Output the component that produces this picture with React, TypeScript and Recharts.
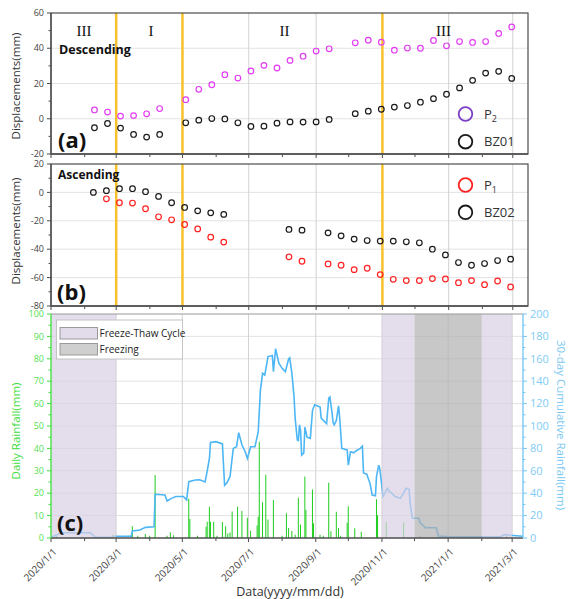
import React from 'react';
import {
  ScatterChart,
  ComposedChart,
  Scatter,
  Bar,
  Line,
  XAxis,
  YAxis,
  ReferenceLine,
  ReferenceArea,
} from 'recharts';

// x values are days counted from 2020/1/1
const MONTH_DAYS = [0, 31, 60, 91, 121, 152, 182, 213, 244, 274, 305, 335, 366, 397, 425];
const MONTH_LABELS = ['2020/1/1', '', '2020/3/1', '', '2020/5/1', '', '2020/7/1', '', '2020/9/1', '', '2020/11/1', '', '2021/1/1', '', '2021/3/1'];
const GRID_DAYS = [60, 121, 182, 244, 305, 366, 425];
const STAGE_DAYS = [60, 121, 305];

// descending track (P2, BZ01)
const DESC_DAYS = [40, 52, 64, 76, 88, 100, 124, 136, 148, 160, 172, 184, 196, 208, 220, 232, 244, 256, 280, 292, 304, 316, 328, 340, 352, 364, 376, 388, 400, 412, 424];
const P2 = [5.0, 3.8, 1.5, 1.8, 2.8, 5.8, 10.8, 16.7, 19.3, 25.0, 23.1, 27.1, 30.3, 28.8, 33.1, 35.5, 38.4, 39.7, 43.1, 44.6, 43.4, 38.9, 40.1, 40.0, 44.4, 41.4, 43.8, 43.3, 43.8, 48.4, 52.1];
const BZ01 = [-5.1, -2.7, -5.3, -8.9, -10.4, -8.9, -2.3, -0.8, 0.1, -0.1, -2.3, -4.4, -4.2, -2.5, -1.8, -1.9, -1.8, -0.4, 2.9, 4.3, 5.4, 6.6, 7.5, 9.4, 11.4, 13.9, 17.5, 21.8, 25.9, 26.9, 22.9];

// ascending track (P1, BZ02)
const ASC_DAYS = [39, 51, 63, 75, 87, 99, 111, 123, 135, 147, 159, 219, 231, 255, 267, 279, 291, 303, 315, 327, 339, 351, 363, 375, 387, 399, 411, 423];
const P1 = [null, -4.5, -7.3, -7.5, -11.5, -17.2, -19.3, -22.6, -25.7, -31.5, -35, -45.4, -48.5, -50.4, -51.3, -54.4, -53.4, -57.9, -61.2, -62.1, -62.1, -60.7, -61, -63.6, -62.1, -65, -62.4, -66.6];
const BZ02 = [0, 1.2, 2.6, 2.6, 0.5, -2.8, -7.3, -10.6, -13, -14.4, -15.5, -26.1, -26.6, -28.5, -30.6, -32.9, -33.9, -34.3, -34.3, -34.8, -35.5, -40, -44, -49.4, -51.3, -50.1, -48, -47];

// daily rainfall (mm), rain days only
const RAIN_DAYS = [5, 57, 75, 80, 87, 91, 96, 107, 110, 113, 127, 128, 135, 143, 144, 146, 147, 150, 153, 158, 161, 163, 165, 167, 172, 176, 181, 184, 190, 191, 192, 195, 198, 200, 205, 213, 217, 219, 222, 225, 228, 230, 234, 235, 241, 242, 248, 251, 256, 258, 263, 265, 267, 273, 274, 280, 286, 300, 301, 309, 325, 340, 356, 420];
const RAIN_MM = [1, 1.5, 5.3, 1, 1.8, 1, 28.1, 1, 2.6, 1.2, 17.5, 8.5, 1, 5, 7.2, 14, 7.3, 7.2, 1, 7.1, 5.2, 2, 2.5, 11.8, 14, 12, 9, 3.2, 5.6, 9.5, 43, 16, 28.2, 8.3, 17, 1, 11, 4.5, 3.1, 1.5, 18, 6, 27.4, 12.5, 21.7, 6.6, 1.5, 1, 24.7, 3, 11.7, 4.5, 1, 6.8, 14.2, 4.3, 2.8, 17.3, 10.2, 7.1, 7, 0.8, 0.5, 1];

// 30-day cumulative rainfall (mm)
const CUM_DAYS = [0, 5, 10, 36, 41, 57, 58, 74, 75, 82, 87, 95, 96, 105, 107, 111, 115, 122, 125, 127, 133, 137, 142, 144, 146, 147, 152, 158, 159, 160, 162, 165, 168, 171, 173, 176, 179, 181, 184, 188, 191, 193, 195, 197, 200, 204, 205, 207, 210, 213, 216, 219, 220, 222, 224, 225, 227, 228, 229, 230, 231, 233, 234, 236, 239, 241, 243, 248, 249, 251, 254, 256, 257, 259, 260, 261, 263, 265, 266, 268, 273, 274, 276, 279, 281, 285, 287, 288, 291, 294, 296, 299, 300, 302, 303, 305, 306, 310, 312, 314, 317, 322, 325, 327, 330, 331, 333, 339, 340, 345, 355, 357, 365, 414, 418, 423, 435];
const CUM_MM = [0.5, 2.7, 4.7, 4.7, 0.6, 0.6, 1.5, 1.5, 6.2, 7.1, 9.5, 10, 39, 38.4, 33, 35.4, 37, 37, 34, 50.3, 51.8, 52, 50, 60, 71, 85.4, 86, 84, 65, 47, 49, 55, 80, 81.5, 94, 83, 77, 71, 81.5, 81.5, 95, 132, 147, 145.5, 162, 163, 148.5, 169, 156, 151.5, 148.5, 160, 161, 147, 126, 107, 87.5, 87, 101, 96, 74, 76, 99, 90, 89, 114, 119, 117, 107, 105, 102, 125, 126, 112, 103, 101, 105, 118, 108, 80, 78.6, 65, 77, 76, 77.7, 80, 82, 58, 57, 48.8, 38.4, 37.8, 54.8, 65, 62, 45.8, 37, 44.4, 41.4, 40, 37, 35.4, 40, 44.4, 43.5, 31, 17.6, 17.6, 13.7, 9.2, 9.2, 1.8, 1.2, 1, 3, 2.5, 1.5];

// seasonal periods: [start, end]
const FREEZE_THAW = [[0, 60], [305, 335], [397, 425]];
const FREEZING = [[335, 397]];

const descP2 = DESC_DAYS.map((day, i) => ({ day, v: P2[i] }));
const descBZ01 = DESC_DAYS.map((day, i) => ({ day, v: BZ01[i] }));
const ascP1 = ASC_DAYS.map((day, i) => ({ day, v: P1[i] })).filter((d) => d.v !== null);
const ascBZ02 = ASC_DAYS.map((day, i) => ({ day, v: BZ02[i] }));
const rainData = RAIN_DAYS.map((day, i) => ({ day, rain: RAIN_MM[i] }));
const cumData = CUM_DAYS.map((day, i) => ({ day, cum: CUM_MM[i] }));

const FONT = '"Open Sans", "DejaVu Sans", sans-serif';
const AXIS = '#4d4d4d';
const GRID = '#e3e3e3';
const VGRID = '#d2d2d2';
const YELLOW = '#f8c12c';
const MAGENTA = '#e23cf2';
const RED = '#ff2020';
const BLACK = '#1a1a1a';
const GREEN = '#19cc19';
const GREEN_AXIS = '#3be03b';
const BLUE = '#4db6f4';
const BLUE_AXIS = '#6fc4f5';

const ring = (color: string) => (props: any) => (
  <circle cx={props.cx} cy={props.cy} r={2.8} fill="none" stroke={color} strokeWidth={1.2} />
);

const bottomTick = (withLabels: boolean) => (props: any) => {
  const { x, y, payload } = props;
  const label = MONTH_LABELS[MONTH_DAYS.indexOf(payload.value)] || '';
  const major = label !== '';
  const px = x + 4;
  const py = y + 12;
  return (
    <g>
      <line x1={x} x2={x} y1={y} y2={y + (major ? 4 : 3)} stroke={AXIS} strokeWidth={1} />
      {withLabels && major && (
        <text
          x={px}
          y={py}
          dy="0.35em"
          textAnchor="end"
          transform={`rotate(-45 ${px} ${py})`}
          fontSize={10}
          fill="#444"
          fontFamily={FONT}
        >
          {label}
        </text>
      )}
    </g>
  );
};

const sideTick = (side: 'left' | 'right', step: number, textColor: string, lineColor: string, size: number) => (props: any) => {
  const { x, y, payload } = props;
  const v = payload.value;
  const major = v % step === 0;
  const dir = side === 'left' ? -1 : 1;
  return (
    <g>
      <line x1={x} x2={x + dir * (major ? 4 : 2.5)} y1={y} y2={y} stroke={lineColor} strokeWidth={1} />
      {major && (
        <text
          x={x + dir * 7}
          y={y}
          dy="0.35em"
          textAnchor={side === 'left' ? 'end' : 'start'}
          fontSize={size}
          fill={textColor}
          fontFamily={FONT}
        >
          {v}
        </text>
      )}
    </g>
  );
};

const range = (a: number, b: number, s: number) => {
  const out: number[] = [];
  for (let v = a; v <= b; v += s) out.push(v);
  return out;
};

const X_END = 439;
const X_END_C = 435;

function DisplacementPanel({ top, height, marginTop, yMin, yMax, gridY, series }: any) {
  return (
    <div style={{ position: 'absolute', left: 0, top }}>
      <ScatterChart width={571} height={height} margin={{ top: marginTop, right: 43, bottom: 0, left: 0 }}>
        <XAxis
          type="number"
          dataKey="day"
          domain={[0, X_END]}
          allowDataOverflow
          ticks={MONTH_DAYS}
          interval={0}
          tick={bottomTick(false)}
          tickLine={false}
          tickSize={0}
          tickMargin={0}
          height={6}
          axisLine={{ stroke: AXIS, strokeWidth: 1.3 }}
        />
        <YAxis
          type="number"
          dataKey="v"
          domain={[yMin, yMax]}
          allowDataOverflow
          ticks={range(yMin, yMax, 10)}
          interval={0}
          tick={sideTick('left', 20, '#444', AXIS, 9)}
          tickLine={false}
          tickSize={0}
          tickMargin={0}
          width={51}
          axisLine={{ stroke: AXIS, strokeWidth: 1.3 }}
        />
        {gridY.map((v: number) => (
          <ReferenceLine key={`h${v}`} y={v} stroke={GRID} strokeWidth={1} zIndex={-100} />
        ))}
        {GRID_DAYS.map((d) => (
          <ReferenceLine key={`v${d}`} x={d} stroke={VGRID} strokeWidth={1} zIndex={-100} />
        ))}
        {STAGE_DAYS.map((d) => (
          <ReferenceLine key={`s${d}`} x={d} stroke={YELLOW} strokeWidth={2.5} />
        ))}
        {series.map((s: any) => (
          <Scatter key={s.name} name={s.name} data={s.data} dataKey="v" shape={ring(s.color)} isAnimationActive={false} />
        ))}
      </ScatterChart>
    </div>
  );
}

function RainPanel() {
  return (
    <div style={{ position: 'absolute', left: 0, top: 300 }}>
      <ComposedChart width={571} height={299} data={rainData} margin={{ top: 14, right: 0, bottom: 0, left: 0 }}>
        <XAxis
          type="number"
          dataKey="day"
          domain={[0, X_END_C]}
          allowDataOverflow
          ticks={MONTH_DAYS}
          interval={0}
          tick={bottomTick(true)}
          tickLine={false}
          tickSize={0}
          tickMargin={0}
          height={61}
          axisLine={{ stroke: AXIS, strokeWidth: 1.3 }}
        />
        <YAxis
          yAxisId="left"
          type="number"
          domain={[0, 100]}
          allowDataOverflow
          ticks={range(0, 100, 5)}
          interval={0}
          tick={sideTick('left', 10, '#55e055', GREEN_AXIS, 9)}
          tickLine={false}
          tickSize={0}
          tickMargin={0}
          width={51}
          axisLine={{ stroke: GREEN_AXIS, strokeWidth: 1.3 }}
        />
        <YAxis
          yAxisId="right"
          orientation="right"
          type="number"
          domain={[0, 200]}
          allowDataOverflow
          ticks={range(0, 200, 10)}
          interval={0}
          tick={sideTick('right', 20, '#7fcbf5', BLUE_AXIS, 11)}
          tickLine={false}
          tickSize={0}
          tickMargin={0}
          width={48}
          axisLine={{ stroke: BLUE_AXIS, strokeWidth: 1.3 }}
        />
        {range(10, 90, 10).map((v) => (
          <ReferenceLine key={`h${v}`} yAxisId="left" y={v} stroke={GRID} strokeWidth={1} zIndex={-100} />
        ))}
        {GRID_DAYS.map((d) => (
          <ReferenceLine key={`v${d}`} yAxisId="left" x={d} stroke={VGRID} strokeWidth={1} zIndex={-100} />
        ))}
        <Bar yAxisId="left" dataKey="rain" fill={GREEN} barSize={2} isAnimationActive={false} />
        <Line
          yAxisId="right"
          data={cumData}
          dataKey="cum"
          type="linear"
          stroke={BLUE}
          strokeWidth={1.6}
          dot={false}
          isAnimationActive={false}
        />
        {FREEZE_THAW.map(([a, b]) => (
          <ReferenceArea key={`ft${a}`} yAxisId="left" x1={a} x2={b} y1={0} y2={100} fill="#d8cfe3" fillOpacity={0.7} stroke="none" zIndex={450} />
        ))}
        {FREEZING.map(([a, b]) => (
          <ReferenceArea key={`fz${a}`} yAxisId="left" x1={a} x2={b} y1={0} y2={100} fill="#b0b0b0" fillOpacity={0.7} stroke="none" zIndex={450} />
        ))}
      </ComposedChart>
    </div>
  );
}

function Overlay() {
  const roman = { fontFamily: '"Liberation Serif", "DejaVu Serif", serif', fontSize: 15, fill: '#111' };
  const bold = { fontFamily: FONT, fontWeight: 700, fill: '#111' };
  const legendText = { fontFamily: FONT, fontSize: 13, fill: '#333' };
  return (
    <svg width={571} height={599} style={{ position: 'absolute', left: 0, top: 0, pointerEvents: 'none' }}>
      {/* frames */}
      <rect x={51} y={13} width={477} height={141} fill="none" stroke={AXIS} strokeWidth={1.2} />
      <rect x={51} y={164} width={477} height={142} fill="none" stroke={AXIS} strokeWidth={1.2} />
      <line x1={51} x2={523} y1={314} y2={314} stroke="#999" strokeWidth={1} />

      {/* stage labels */}
      <text x={84} y={31} dy="0.35em" textAnchor="middle" style={roman}>III</text>
      <text x={151} y={31} dy="0.35em" textAnchor="middle" style={roman}>I</text>
      <text x={284.5} y={31} dy="0.35em" textAnchor="middle" style={roman}>II</text>
      <text x={443.5} y={31} dy="0.35em" textAnchor="middle" style={roman}>III</text>

      <text x={59} y={50} dy="0.35em" fontSize={12.5} style={bold}>Descending</text>
      <text x={58} y={175} dy="0.35em" fontSize={12} style={bold}>Ascending</text>
      <text x={58} y={140} dy="0.35em" fontSize={22} style={bold}>(a)</text>
      <text x={57} y={292} dy="0.35em" fontSize={22} style={bold}>(b)</text>
      <text x={57} y={523} dy="0.35em" fontSize={22} style={bold}>(c)</text>

      {/* legends (a), (b) */}
      <circle cx={465.5} cy={114} r={6.8} fill="none" stroke="#7d3fc4" strokeWidth={1.8} />
      <text x={484} y={114} dy="0.35em" style={legendText}>P<tspan fontSize={9} dy={3}>2</tspan></text>
      <circle cx={465.5} cy={141.7} r={6.8} fill="none" stroke={BLACK} strokeWidth={1.8} />
      <text x={484} y={141.7} dy="0.35em" style={legendText}>BZ01</text>
      <circle cx={465.5} cy={185} r={6.8} fill="none" stroke={RED} strokeWidth={1.8} />
      <text x={484} y={185} dy="0.35em" style={legendText}>P<tspan fontSize={9} dy={3}>1</tspan></text>
      <circle cx={465.5} cy={212.3} r={6.8} fill="none" stroke={BLACK} strokeWidth={1.8} />
      <text x={484} y={212.3} dy="0.35em" style={legendText}>BZ02</text>

      {/* legend (c) */}
      <rect x={56.5} y={320} width={126} height={39} fill="#fff" stroke="#c4c4c4" strokeWidth={1} />
      <rect x={60} y={327.5} width={37.5} height={11.5} fill="#e2dcea" stroke="#9a9a9a" strokeWidth={1} />
      <rect x={60} y={343.5} width={37.5} height={11.5} fill="#cfcfcf" stroke="#9a9a9a" strokeWidth={1} />
      <text x={99.5} y={333.3} dy="0.35em" fontSize={10} fontFamily={FONT} fill="#222">Freeze-Thaw Cycle</text>
      <text x={99.5} y={349.3} dy="0.35em" fontSize={10} fontFamily={FONT} fill="#222">Freezing</text>

      {/* axis titles */}
      <text x={15.5} y={86} dy="0.35em" textAnchor="middle" transform="rotate(-90 15.5 86)" fontSize={11.5} fontFamily={FONT} fill="#333">Displacements(mm)</text>
      <text x={15.5} y={231} dy="0.35em" textAnchor="middle" transform="rotate(-90 15.5 231)" fontSize={11.5} fontFamily={FONT} fill="#333">Displacements(mm)</text>
      <text x={16} y={431} dy="0.35em" textAnchor="middle" transform="rotate(-90 16 431)" fontSize={11.5} fontFamily={FONT} fill="#3edc3e">Daily Rainfall(mm)</text>
      <text x={561} y={425} dy="0.35em" textAnchor="middle" transform="rotate(90 561 425)" fontSize={11.5} fontFamily={FONT} fill="#7cc8f2">30-day Cumulative Rainfall(mm)</text>
      <text x={290} y={592} dy="0.35em" textAnchor="middle" fontSize={12.5} fontFamily={FONT} fill="#333">Data(yyyy/mm/dd)</text>
    </svg>
  );
}

export default function App() {
  return (
    <div style={{ position: 'absolute', left: 0, top: 0, width: 571, height: 599, background: '#fff', overflow: 'hidden' }}>
      <DisplacementPanel
        top={0}
        height={160}
        marginTop={13}
        yMin={-20}
        yMax={60}
        gridY={[0, 20, 40]}
        series={[
          { name: 'P2', data: descP2, color: MAGENTA },
          { name: 'BZ01', data: descBZ01, color: BLACK },
        ]}
      />
      <DisplacementPanel
        top={150}
        height={162}
        marginTop={14}
        yMin={-80}
        yMax={20}
        gridY={[-60, -40, -20, 0]}
        series={[
          { name: 'P1', data: ascP1, color: RED },
          { name: 'BZ02', data: ascBZ02, color: BLACK },
        ]}
      />
      <RainPanel />
      <Overlay />
    </div>
  );
}
